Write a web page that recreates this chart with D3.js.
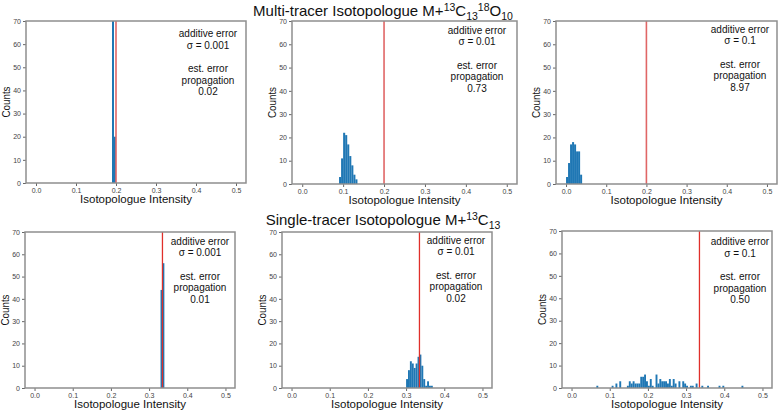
<!DOCTYPE html>
<html><head><meta charset="utf-8">
<script src="https://cdn.jsdelivr.net/npm/d3@7"></script>
<style>
html,body{margin:0;padding:0;background:#fff;}
svg{display:block;font-family:"Liberation Sans",Arial,sans-serif;}
</style></head>
<body><svg id="c" width="778" height="414"></svg>
<script>
// ---------------- data ----------------
const binWidth = 0.005;
const xTicks = [0.0, 0.1, 0.2, 0.3, 0.4, 0.5];
const yTicks = [0, 10, 20, 30, 40, 50, 60, 70];
const sigmaLabels = ["0.001", "0.01", "0.1", "0.001", "0.01", "0.1"];
const propagationLabels = ["0.02", "0.73", "8.97", "0.01", "0.02", "0.50"];
const trueValues = [0.2, 0.2, 0.2, 0.335, 0.335, 0.335];
const histStarts = [0.190, 0.090, 0.000, 0.330, 0.300, 0.065];
const hist1 = [80, 20];
const hist2 = [3, 11, 22, 21, 17, 12, 8, 4, 2];
const hist3 = [3, 9, 17, 18, 17, 14, 14, 4];
const hist4 = [44, 56];
const hist5 = [4, 8, 12, 11, 9, 11, 14, 15, 10, 4, 1, 3, 1, 1];
const hist6 = [1,0,0,0,0,0,0,0,1,0,2,0,3,0,0,0,1,3,2,3,2,2,2,5,5,6,3,1,4,1,0,6,2,4,3,3,3,2,4,1,4,2,0,3,0,3,2,1,0,1,1,0,2,0,0,1,0,0,1,0,0,0,0,0,1,0,1,0,0,0,0,0,0,0,0,0,1];
const hists = [hist1, hist2, hist3, hist4, hist5, hist6];
const xLabel = "Isotopologue Intensity";
const yLabel = "Counts";

// ---------------- layout ----------------
const frames = [
  {x0: 26, x1: 246, y0: 21, y1: 183},
  {x0: 292, x1: 517, y0: 21, y1: 184},
  {x0: 556, x1: 777, y0: 21, y1: 184},
  {x0: 25, x1: 235, y0: 232, y1: 388},
  {x0: 282, x1: 492, y0: 232, y1: 388},
  {x0: 562, x1: 772, y0: 231, y1: 388}
];
const annX = [208, 477, 740, 200, 456, 740];
const annY = [37, 33.5, 32.5, 244.5, 243.5, 245];
const annDy = [0, 11.5, 35, 46.7, 58.4];

const svg = d3.select("#c");
const defs = svg.append("defs");

frames.forEach((f, i) => {
  const x = d3.scaleLinear().domain([-0.025, 0.525]).range([f.x0, f.x1]);
  const y = d3.scaleLinear().domain([0, 70]).range([f.y1, f.y0]);
  const g = svg.append("g");
  defs.append("clipPath").attr("id", "clip" + i)
    .append("rect").attr("x", f.x0).attr("y", f.y0)
    .attr("width", f.x1 - f.x0).attr("height", f.y1 - f.y0);

  const bins = hists[i].map((c, k) => ({x0: histStarts[i] + k * binWidth, c}));
  g.append("g").attr("clip-path", `url(#clip${i})`)
    .selectAll("rect").data(bins.filter(b => b.c > 0)).join("rect")
    .attr("x", b => x(b.x0))
    .attr("width", b => x(b.x0 + binWidth) - x(b.x0))
    .attr("y", b => y(b.c))
    .attr("height", b => y(0) - y(b.c))
    .attr("fill", "#1f77b4");

  g.append("line")
    .attr("x1", x(trueValues[i])).attr("x2", x(trueValues[i]))
    .attr("y1", f.y0).attr("y2", f.y1)
    .attr("stroke", i < 3 ? "#e06666" : "#e0302a")
    .attr("stroke-width", i < 3 ? 1.6 : 1.3);

  // axes
  const ax = g.append("g").attr("transform", `translate(0,${f.y1})`)
    .call(d3.axisBottom(x).tickValues(xTicks).tickFormat(d3.format(".1f")).tickSize(3).tickPadding(2));
  const ay = g.append("g").attr("transform", `translate(${f.x0},0)`)
    .call(d3.axisLeft(y).tickValues(yTicks).tickSize(3).tickPadding(2));
  [ax, ay].forEach(a => {
    a.select(".domain").remove();
    a.selectAll("line").attr("stroke", "#666");
    a.selectAll("text").attr("fill", "#444").style("font-size", "7px")
      .style("font-family", "'Liberation Sans',Arial,sans-serif");
  });

  g.append("rect").attr("x", f.x0).attr("y", f.y0)
    .attr("width", f.x1 - f.x0).attr("height", f.y1 - f.y0)
    .attr("fill", "none").attr("stroke", "#8e8e8e").attr("stroke-width", 1.5);

  // labels
  g.append("text").attr("x", (f.x0 + f.x1) / 2).attr("y", f.y1 + 20)
    .attr("text-anchor", "middle").style("font-size", "11.5px").attr("fill", "#111")
    .text(xLabel);
  g.append("text")
    .attr("transform", `translate(${f.x0 - 16},${(f.y0 + f.y1) / 2}) rotate(-90)`)
    .attr("text-anchor", "middle").style("font-size", "11px").attr("fill", "#111")
    .attr("textLength", 31).attr("lengthAdjust", "spacingAndGlyphs")
    .text(yLabel);

  const lines = ["additive error", "\u03c3 = " + sigmaLabels[i], "est. error", "propagation", propagationLabels[i]];
  g.append("g").selectAll("text").data(lines).join("text")
    .attr("x", annX[i]).attr("y", (d, k) => annY[i] + annDy[k])
    .attr("text-anchor", "middle").style("font-size", "10px").attr("fill", "#111")
    .text(d => d);
});

// titles
function title(yBase, parts) {
  const t = svg.append("text").attr("x", 383).attr("y", yBase)
    .attr("text-anchor", "middle").attr("fill", "#111").style("font-size", "15px");
  let cur = 0;
  parts.forEach(p => {
    const off = p.t === "sup" ? -5.5 : p.t === "sub" ? 3.5 : 0;
    t.append("tspan").attr("dy", off - cur)
      .style("font-size", p.t ? "10.5px" : "15px").text(p.s);
    cur = off;
  });
}
title(16, [{s: "Multi-tracer Isotopologue M+"}, {s: "13", t: "sup"}, {s: "C"}, {s: "13", t: "sub"},
           {s: "18", t: "sup"}, {s: "O"}, {s: "10", t: "sub"}]);
title(225, [{s: "Single-tracer Isotopologue M+"}, {s: "13", t: "sup"}, {s: "C"}, {s: "13", t: "sub"}]);
</script>
</body></html>
